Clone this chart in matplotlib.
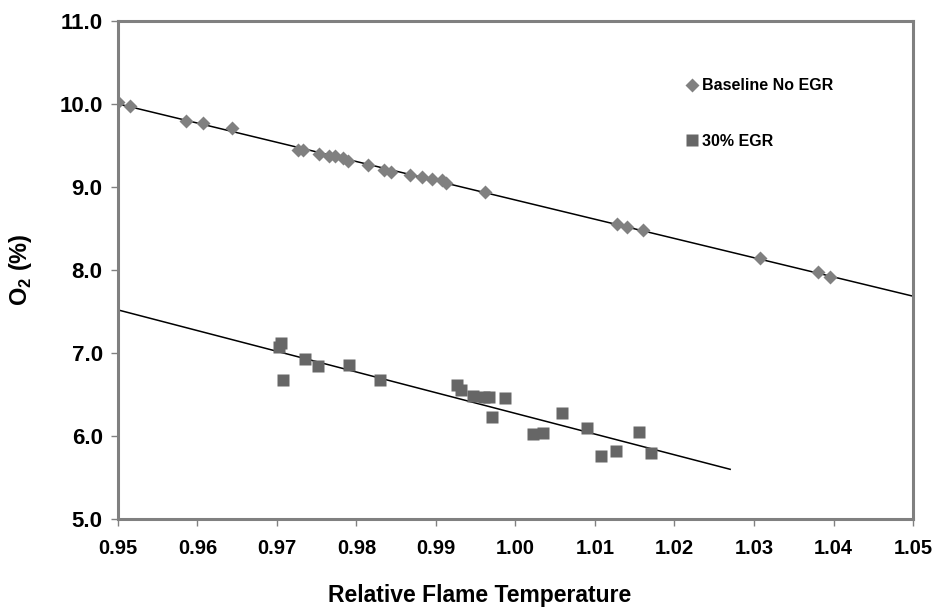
import numpy as np
import matplotlib.pyplot as plt

plt.rcParams['font.family'] = ['Liberation Sans', 'DejaVu Sans']
plt.rcParams['mathtext.fontset'] = 'custom'
plt.rcParams['mathtext.bf'] = 'Liberation Sans:bold'
plt.rcParams['mathtext.rm'] = 'Liberation Sans:bold'

# Baseline (no EGR) data
base_t = [0.9500, 0.9515, 0.9586, 0.9607, 0.9644, 0.9727, 0.9733, 0.9753,
          0.9765, 0.9773, 0.9783, 0.9789, 0.9815, 0.9834, 0.9844, 0.9867,
          0.9882, 0.9895, 0.9907, 0.9913, 0.9962, 1.0128, 1.0140, 1.0161,
          1.0307, 1.0381, 1.0395]
base_o2 = [10.02, 9.98, 9.79, 9.77, 9.71, 9.45, 9.44, 9.40,
           9.37, 9.37, 9.35, 9.31, 9.26, 9.21, 9.18, 9.15,
           9.12, 9.10, 9.08, 9.05, 8.94, 8.56, 8.52, 8.48,
           8.14, 7.97, 7.91]

# 30% EGR data
egr_t = [0.9702, 0.9705, 0.9707, 0.9735, 0.9752, 0.9790, 0.9829, 0.9927,
         0.9931, 0.9946, 0.9960, 0.9967, 0.9970, 0.9987, 1.0022, 1.0035,
         1.0058, 1.0090, 1.0108, 1.0127, 1.0155, 1.0170]
egr_o2 = [7.07, 7.12, 6.68, 6.93, 6.84, 6.85, 6.67, 6.61,
          6.55, 6.48, 6.47, 6.47, 6.23, 6.46, 6.03, 6.04,
          6.28, 6.10, 5.76, 5.82, 6.05, 5.79]

x_ticks = [0.95, 0.96, 0.97, 0.98, 0.99, 1.00, 1.01, 1.02, 1.03, 1.04, 1.05]
y_ticks = [5.0, 6.0, 7.0, 8.0, 9.0, 10.0, 11.0]

# trendline extents
base_fit_range = [0.95, 1.05]
egr_fit_range = [0.95, 1.027]

fig = plt.figure(figsize=(9.37, 6.14), dpi=100)
ax = fig.add_axes([0.1259, 0.1547, 0.8485, 0.8111])

ax.plot(base_t, base_o2, linestyle='none', marker='D', markersize=7.5,
        color='#808080', markeredgecolor='none', label='Baseline No EGR', zorder=3)
ax.plot(egr_t, egr_o2, linestyle='none', marker='s', markersize=8,
        color='#666666', markeredgecolor='none', label='30% EGR', zorder=3)

# linear trendlines
p = np.polyfit(base_t, base_o2, 1)
xx = np.array(base_fit_range)
ax.plot(xx, np.polyval(p, xx), color='black', lw=1.1, zorder=2)
p = np.polyfit(egr_t, egr_o2, 1)
xx = np.array(egr_fit_range)
ax.plot(xx, np.polyval(p, xx), color='black', lw=1.1, zorder=2)

ax.set_xlim(0.95, 1.05)
ax.set_ylim(5.0, 11.0)
ax.set_xticks(x_ticks)
ax.set_yticks(y_ticks)
ax.set_xticklabels([f'{v:.2f}' for v in x_ticks])
ax.set_yticklabels([f'{v:.1f}' for v in y_ticks])

for s in ax.spines.values():
    s.set_color('#808080')
    s.set_linewidth(2.2)
ax.tick_params(axis='both', direction='out', color='#808080', width=1,
               length=5)
ax.tick_params(axis='x', pad=9.5, labelsize=14.5)
ax.tick_params(axis='y', pad=6, labelsize=16)
for lab in ax.get_xticklabels() + ax.get_yticklabels():
    lab.set_fontweight('bold')

ax.set_xlabel('Relative Flame Temperature', fontsize=16.5, fontweight='bold')
ax.xaxis.set_label_coords(0.455, -0.13)
ax.set_ylabel(r'O$_\mathbf{2}$ (%)', fontsize=17, fontweight='bold')
ax.yaxis.set_label_coords(-0.105, 0.5)

leg = ax.legend(loc='upper left', bbox_to_anchor=(0.708, 0.898), frameon=False,
                handlelength=0.6, handletextpad=0.3, labelspacing=2.55,
                prop={'size': 11.5, 'weight': 'bold'}, borderaxespad=0)

fig.savefig('out.png', dpi=100)
